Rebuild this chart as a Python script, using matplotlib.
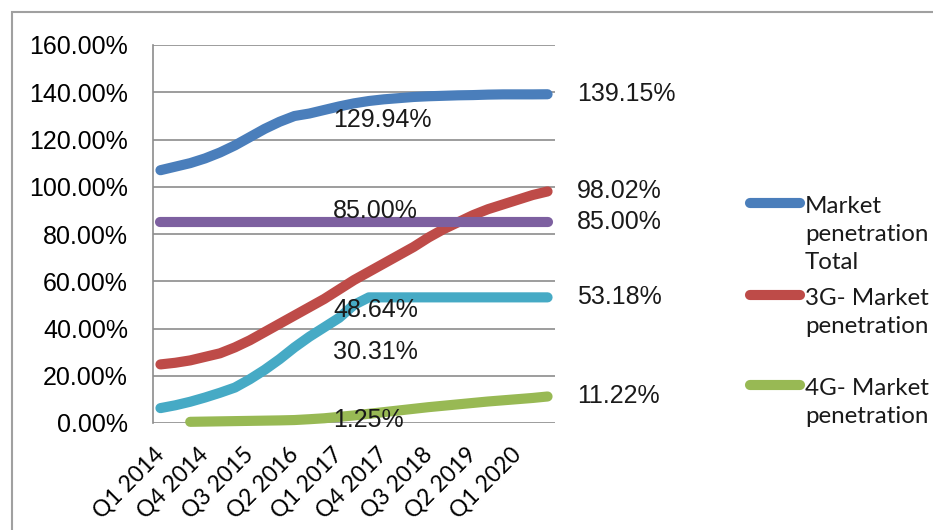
from matplotlib import pyplot as plt
from matplotlib.lines import Line2D
from matplotlib.patches import Rectangle

plt.rcParams["font.family"] = ["Liberation Sans", "DejaVu Sans"]

quarters = [f"Q{q} {y}" for y in range(2014, 2021) for q in (1, 2, 3, 4)][:27]

total = [107.0, 108.5, 110.0, 112.0, 114.5, 117.5, 121.0, 124.5, 127.5,
         129.94, 131.0, 132.5, 134.0, 135.3, 136.3, 137.0, 137.5, 138.0,
         138.3, 138.5, 138.7, 138.8, 139.0, 139.1, 139.1, 139.1, 139.15]
g3 = [24.8, 25.5, 26.5, 28.0, 29.5, 32.0, 35.0, 38.5, 42.0, 45.5, 49.0,
      52.5, 56.5, 60.5, 64.0, 67.5, 71.0, 74.5, 78.5, 82.0, 85.0, 88.0,
      90.5, 92.5, 94.5, 96.5, 98.02]
g4 = [None, None, 0.5, 0.6, 0.7, 0.8, 0.9, 1.0, 1.1, 1.25, 1.6, 2.0, 2.6,
      3.2, 3.9, 4.6, 5.3, 6.0, 6.7, 7.3, 7.9, 8.5, 9.1, 9.6, 10.1, 10.6,
      11.22]
cyan = [6.3, 7.5, 9.0, 10.8, 12.8, 15.0, 18.5, 22.5, 27.0, 32.0, 36.5,
        40.5, 44.5, 50.0] + [53.18] * 13
target = [85.0] * 27

mid_labels = ["129.94%", "85.00%", "48.64%", "30.31%", "1.25%"]
end_labels = ["139.15%", "98.02%", "85.00%", "53.18%", "11.22%"]
end_values = [139.15, 98.02, 85.00, 53.18, 11.22]

legend_names = ["Market\npenetration\nTotal", "3G- Market\npenetration",
                "4G- Market\npenetration"]

colors = {"total": "#4a7ebb", "g3": "#be4b48", "g4": "#98b954",
          "cyan": "#46aac5", "target": "#7d60a0"}

W, H = 933, 530
fig = plt.figure(figsize=(W / 100, H / 100), dpi=100)
ax = fig.add_axes([153 / W, 107 / H, 402 / W, 378 / H])

x = list(range(len(quarters)))
series = [(total, "total"), (g3, "g3"), (g4, "g4"), (cyan, "cyan"),
          (target, "target")]
for vals, key in series:
    xs = [i for i, v in zip(x, vals) if v is not None]
    ys = [v for v in vals if v is not None]
    ax.plot(xs, ys, color=colors[key], lw=7.3, solid_capstyle="round",
            solid_joinstyle="round", clip_on=False)

ax.set_xlim(-0.5, len(quarters) - 0.5)
ax.set_ylim(0, 160)
ax.set_yticks(range(0, 161, 20))
ax.set_yticklabels([f"{v:.2f}%" for v in range(0, 161, 20)], fontsize=18)
ax.yaxis.grid(True, color="#8c8c8c", lw=1.2)
ax.set_axisbelow(True)
ax.tick_params(axis="y", length=0, pad=18)
ax.set_xticks(x[::3])
ax.set_xticklabels(quarters[::3], fontsize=16.5, family=["Lato", "DejaVu Sans"])
ax.tick_params(axis="x", length=0, pad=20)
plt.setp(ax.get_xticklabels(), rotation=45, ha="right", va="center",
         rotation_mode="anchor")
for side in ("top", "right", "bottom"):
    ax.spines[side].set_visible(False)
ax.spines["left"].set_color("#8c8c8c")
ax.spines["left"].set_linewidth(1.2)

# data labels inside the plot, dragged to the middle like in the original
mid_y = [128.2, 89.7, 47.8, 30.0, 1.3]
for text, yy in zip(mid_labels, mid_y):
    ax.text(11.6, yy, text, fontsize=18, ha="left", va="center",
            color="#1a1a1a", zorder=10)

for text, yy in zip(end_labels, end_values):
    ax.text(28.0, yy, text, fontsize=18, ha="left", va="center",
            color="#1a1a1a", clip_on=False)

# legend, drawn by hand
leg_y = [203, 295, 385]
for name, key, yy in zip(legend_names, ["total", "g3", "g4"], leg_y):
    fy = 1 - yy / H
    fig.add_artist(Line2D([750 / W, 800 / W], [fy, fy], color=colors[key],
                          lw=7.3, solid_capstyle="round",
                          transform=fig.transFigure))
    fig.text(805 / W, fy + 7 / H, name, fontsize=17.4, ha="left", va="top",
             linespacing=1.42, color="#1a1a1a",
             family=["Lato", "DejaVu Sans"])

fig.add_artist(Rectangle((12 / W, -0.1), 1.0, 518 / H + 0.1, fill=False,
                         ec="#a0a0a0", lw=1.5, transform=fig.transFigure))

fig.savefig("out.png", dpi=100, facecolor="white")
